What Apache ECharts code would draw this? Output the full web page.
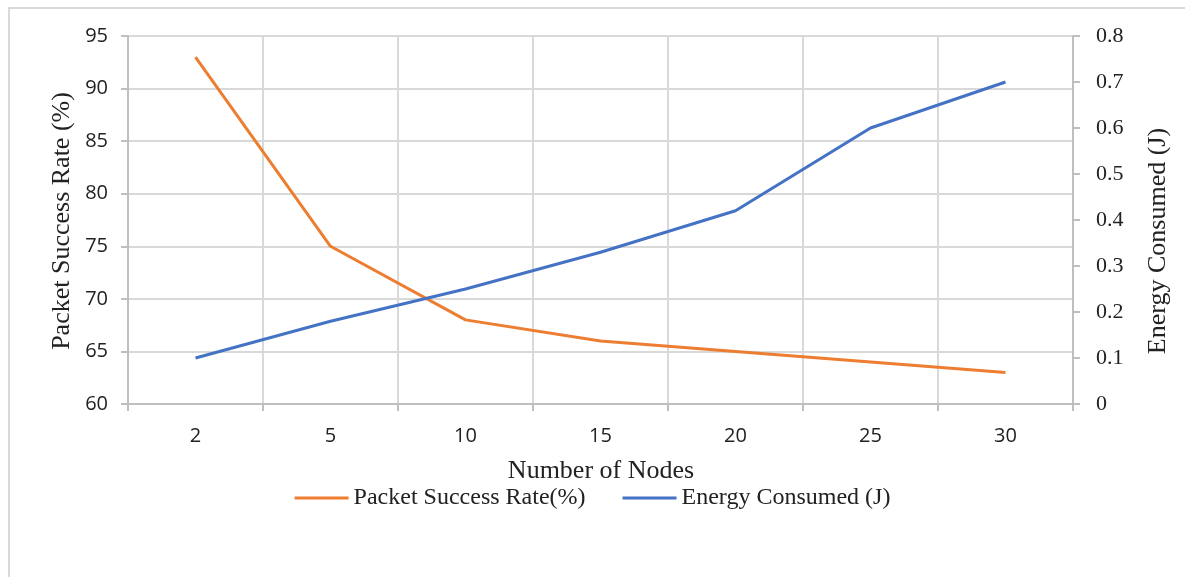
<!DOCTYPE html>
<html>
<head>
<meta charset="utf-8">
<script src="https://cdn.jsdelivr.net/npm/echarts@6/dist/echarts.min.js"></script>
<style>
  html, body { margin: 0; padding: 0; background: #fff; }
  #chart { width: 1185px; height: 577px; }
</style>
</head>
<body>
<div id="chart"></div>
<script>
// Number of nodes in the network
const nodes = ['2', '5', '10', '15', '20', '25', '30'];
// Packet success rate (%) per node count
const successRate = [93, 75, 68, 66, 65, 64, 63];
// Energy consumed (J) per node count
const energy = [0.10, 0.18, 0.25, 0.33, 0.42, 0.60, 0.70];

const orange = '#ED7D31';
const blue = '#4472C4';
const gridColor = '#d9d9d9';
const axisColor = '#bfbfbf';
const sans = '"Open Sans", "Liberation Sans", sans-serif';
const serif = '"Liberation Serif", "DejaVu Serif", serif';

const chart = echarts.init(document.getElementById('chart'));
chart.setOption({
  backgroundColor: '#fff',
  animation: false,
  grid: { left: 128, right: 112, top: 36, bottom: 173, containLabel: false },
  xAxis: {
    type: 'category',
    data: nodes,
    boundaryGap: true,
    axisLine: { show: true, lineStyle: { color: axisColor, width: 2 } },
    axisTick: { show: true, length: 7, lineStyle: { color: axisColor, width: 2 } },
    axisLabel: { color: '#222', fontFamily: sans, fontSize: 20, margin: 22 },
    splitLine: { show: true, lineStyle: { color: gridColor, width: 2 } }
  },
  yAxis: [
    {
      type: 'value', min: 60, max: 95, interval: 5,
      axisLine: { show: true, lineStyle: { color: axisColor, width: 2 } },
      axisTick: { show: true, length: 7, lineStyle: { color: axisColor, width: 2 } },
      axisLabel: { color: '#222', fontFamily: sans, fontSize: 20, margin: 20 },
      splitLine: { show: true, lineStyle: { color: gridColor, width: 2 } }
    },
    {
      type: 'value', min: 0, max: 0.8, interval: 0.1,
      position: 'right',
      axisLine: { show: true, lineStyle: { color: axisColor, width: 2 } },
      axisTick: { show: true, length: 7, lineStyle: { color: axisColor, width: 2 } },
      axisLabel: { color: '#222', fontFamily: serif, fontSize: 22, margin: 23,
                   formatter: v => String(Math.round(v * 10) / 10) },
      splitLine: { show: false }
    }
  ],
  legend: {
    show: true,
    top: 481,
    left: 'center',
    itemGap: 37,
    itemWidth: 54,
    itemHeight: 3,
    icon: 'rect',
    textStyle: { fontFamily: serif, fontSize: 24, color: '#222' },
    data: ['Packet Success Rate(%)', 'Energy Consumed (J)']
  },
  series: [
    {
      name: 'Packet Success Rate(%)', type: 'line', yAxisIndex: 0,
      data: successRate, symbol: 'none',
      lineStyle: { color: orange, width: 3 }, itemStyle: { color: orange }
    },
    {
      name: 'Energy Consumed (J)', type: 'line', yAxisIndex: 1,
      data: energy, symbol: 'none',
      lineStyle: { color: blue, width: 3 }, itemStyle: { color: blue }
    }
  ],
  graphic: [
    {
      type: 'rect', shape: { x: 9, y: 8, width: 1200, height: 600 }, silent: true, z: -10,
      style: { fill: 'none', stroke: '#d9d9d9', lineWidth: 2 }
    },
    {
      type: 'text', x: 62, y: 221, rotation: Math.PI / 2,
      style: { text: 'Packet Success Rate (%)', font: '26px ' + serif, fill: '#222',
               textAlign: 'center', textVerticalAlign: 'middle' }
    },
    {
      type: 'text', x: 1158, y: 241, rotation: Math.PI / 2,
      style: { text: 'Energy Consumed (J)', font: '26px ' + serif, fill: '#222',
               textAlign: 'center', textVerticalAlign: 'middle' }
    },
    {
      type: 'text', x: 601, y: 471,
      style: { text: 'Number of Nodes', font: '26px ' + serif, fill: '#222',
               textAlign: 'center', textVerticalAlign: 'middle' }
    }
  ]
});
</script>
</body>
</html>
